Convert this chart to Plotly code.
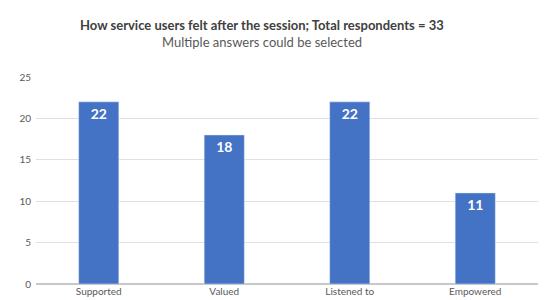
import plotly.graph_objects as go

categories = ["Supported", "Valued", "Listened to", "Empowered"]
values = [22, 18, 22, 11]
y_ticks = [0, 5, 10, 15, 20, 25]

fig = go.Figure(go.Bar(
    x=categories, y=values,
    marker=dict(color="#4472C4"),
    text=[str(v) for v in values],
    textposition="inside", insidetextanchor="end",
    textfont=dict(color="white", size=14, family="Lato"),
    texttemplate="<b>%{text}</b>",
))

fig.update_layout(
    width=547, height=300,
    margin=dict(l=28, r=17, t=69, b=24),
    paper_bgcolor="white", plot_bgcolor="white",
    bargap=0.68,
    showlegend=False,
    font=dict(family="Lato", color="#595959", size=10),
    annotations=[
        dict(text="<b>How service users felt after the session; Total respondents = 33</b>",
             xref="paper", yref="paper", x=0.45, y=1, yshift=52, showarrow=False,
             xanchor="center", yanchor="middle", font=dict(size=13, color="#404040")),
        dict(text="Multiple answers could be selected",
             xref="paper", yref="paper", x=0.45, y=1, yshift=35, showarrow=False,
             xanchor="center", yanchor="middle", font=dict(size=13, color="#595959")),
    ],
)
fig.update_yaxes(range=[0, 25], tickvals=y_ticks, showgrid=True, gridcolor="#E0E0E0",
                 zeroline=True, zerolinecolor="#C8C8C8", ticks="", tickfont=dict(size=10),
                 ticklabelstandoff=4)
fig.update_xaxes(showline=False, ticks="", tickfont=dict(size=10))

fig.write_html("out.html")
